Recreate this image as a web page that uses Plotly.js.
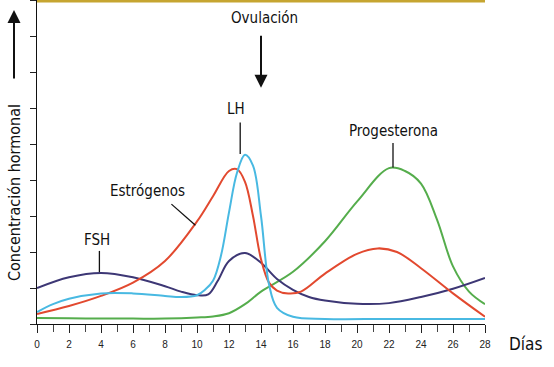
<!DOCTYPE html>
<html><head><meta charset="utf-8">
<script src="https://cdn.plot.ly/plotly-3.0.1.min.js"></script>
<style>body{margin:0;background:#fff}#c{width:554px;height:367px}</style>
</head><body><div id="c"></div>
<script>
const xTicks = [0,2,4,6,8,10,12,14,16,18,20,22,24,26,28];
const xTickLabels = ["0","2","4","6","8","10","12","14","16","18","20","22","24","26","28"];

const progDays = [0,2,4,6,8,10,11,12,13,14,16,18,20,22,23,24,25,26,27,28];
const progVals = [0.17,0.16,0.15,0.15,0.15,0.18,0.21,0.3,0.55,0.9,1.45,2.3,3.4,4.33,4.25,3.9,2.9,1.6,0.9,0.55];

const lhDays = [0,1,2,4,6,8,9,10,10.5,11,11.5,12,12.5,13,13.5,14,14.5,15,16,18,22,28];
const lhVals = [0.33,0.55,0.7,0.85,0.85,0.78,0.75,0.8,0.95,1.2,1.9,3.1,4.2,4.7,4.4,3.0,1.1,0.45,0.2,0.14,0.14,0.14];

const estDays = [0,2,4,6,8,10,11,12,12.5,13,13.5,14,14.5,15,15.7,16.5,18,20,21.3,22.5,24,26,28];
const estVals = [0.28,0.5,0.78,1.15,1.75,2.85,3.55,4.25,4.3,3.95,3.0,1.8,1.15,0.93,0.85,0.9,1.4,1.95,2.1,2.0,1.55,0.85,0.2];

const fshDays = [0,2,4,6,8,9,10,10.7,11.3,12,13,14,15,16,17,18,20,22,24,26,28];
const fshVals = [1.0,1.3,1.42,1.3,1.05,0.9,0.8,0.82,1.2,1.75,1.97,1.7,1.25,0.95,0.75,0.65,0.56,0.58,0.75,0.98,1.28];

const FONT = "'Liberation Sans Narrow','DejaVu Sans Condensed',sans-serif";

function tr(x, y, color){
  return {x:x, y:y, mode:'lines', type:'scatter', hoverinfo:'skip',
    line:{color:color, width:2, shape:'spline', smoothing:1}};
}
const data = [
  tr(progDays, progVals, '#55ad4c'),
  tr(fshDays, fshVals, '#3d3775'),
  tr(estDays, estVals, '#e2492f'),
  tr(lhDays, lhVals, '#48b9e2')
];

function lbl(text, x, y){ return {text:text, x:x, y:y, xref:'x', yref:'y', showarrow:false,
  font:{family:FONT, size:15, color:'#111'}}; }
function seg(x0,y0,x1,y1){ return {type:'line', xref:'x', yref:'y', x0:x0, y0:y0, x1:x1, y1:y1,
  line:{color:'#111', width:1.3}}; }

const layout = {
  width:554, height:367,
  margin:{l:37, r:69, t:0, b:43},
  paper_bgcolor:'#fff', plot_bgcolor:'#fff',
  showlegend:false,
  xaxis:{range:[0,28], showgrid:false, zeroline:false, showline:true, linecolor:'#111', linewidth:1.3,
    tickmode:'array', tickvals:xTicks, ticktext:xTickLabels, ticks:'outside', ticklen:8, tickcolor:'#222',
    ticklabelstandoff:3,
    minor:{dtick:1, tick0:0, ticks:'outside', ticklen:7, tickcolor:'#444', showgrid:false},
    tickfont:{family:'Liberation Sans, Arial, sans-serif', size:10, color:'#222'}},
  yaxis:{range:[0,9], showgrid:false, zeroline:false, showline:true, linecolor:'#111', linewidth:1.3,
    dtick:1, tick0:0, ticks:'outside', ticklen:6, tickcolor:'#222', showticklabels:false},
  annotations:[
    lbl('Ovulación', 14.2, 8.5),
    {x:14.0, y:6.56, ax:14.0, ay:8.05, xref:'x', yref:'y', axref:'x', ayref:'y', text:'', showarrow:true,
      arrowhead:2, arrowsize:1.3, arrowwidth:2, arrowcolor:'#111'},
    lbl('LH', 12.45, 5.97),
    lbl('Progesterona', 22.25, 5.35),
    lbl('Estrógenos', 6.9, 3.7),
    lbl('FSH', 3.75, 2.33),
    {text:'Días', x:28, y:0, xref:'x', yref:'y', xanchor:'left', yanchor:'middle', xshift:22, yshift:-20,
      showarrow:false, font:{family:FONT, size:17, color:'#111'}},
    {text:'Concentración hormonal', x:0, y:(324-193)/324, xref:'paper', yref:'paper', xanchor:'center', yanchor:'middle',
      xshift:-23, textangle:-90, showarrow:false, font:{family:FONT, size:16, color:'#111'}},
    {x:0, y:(324-10)/324, ax:0, ay:(324-80)/324, xref:'paper', yref:'paper', axref:'paper', ayref:'paper',
      xshift:-23, text:'', showarrow:true, arrowhead:2, arrowsize:1.3, arrowwidth:2, arrowcolor:'#111'}
  ],
  shapes:[
    seg(12.7, 5.6, 12.7, 4.72),
    seg(22.25, 5.03, 22.25, 4.35),
    seg(8.4, 3.33, 9.9, 2.74),
    seg(3.9, 2.03, 3.9, 1.44),
    {type:'line', xref:'paper', yref:'paper', x0:0, x1:1, y0:0.997, y1:0.997,
      line:{color:'#c6a531', width:3}}
  ]
};
Plotly.newPlot('c', data, layout, {staticPlot:true, displayModeBar:false});
</script></body></html>
